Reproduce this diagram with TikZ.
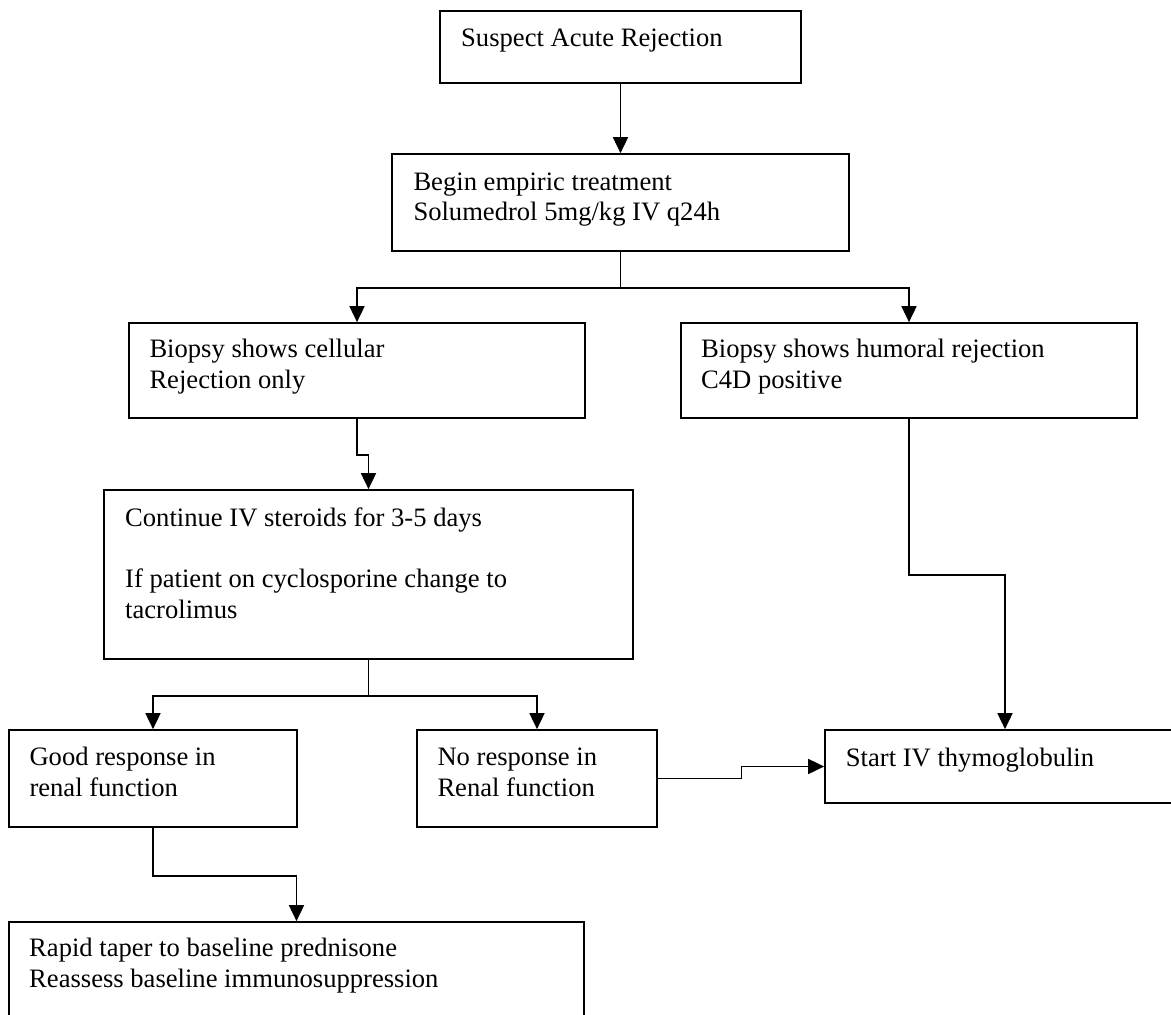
\documentclass[tikz,border=0pt]{standalone}
\usepackage{fontspec}
\setmainfont{Liberation Serif}
\usetikzlibrary{arrows.meta}
\tikzset{
  box/.style={draw=black, line width=1.7pt, inner sep=0pt, rectangle},
  txt/.style={anchor=base west, inner sep=0pt, font=\fontsize{26.6}{30.7}\selectfont},
  conn/.style={draw=black, line width=1.7pt},
  arr/.style={conn, -{Triangle[length=16pt,width=15pt]}}
}
\begin{document}
\begin{tikzpicture}[x=1pt,y=-1pt]
\useasboundingbox (0,0) rectangle (1171,1015);
\fill[white] (0,0) rectangle (1171,1015);
\clip (0,0) rectangle (1171,1015);
% boxes
\node[box, minimum width=361pt, minimum height=72pt] (b1) at (620.5,47) {};
\node[box, minimum width=457pt, minimum height=97pt] (b2) at (620.5,202.5) {};
\node[box, minimum width=456pt, minimum height=95pt] (b3) at (357,370.5) {};
\node[box, minimum width=456pt, minimum height=95pt] (b4) at (909,370.5) {};
\node[box, minimum width=529pt, minimum height=169pt] (b5) at (368.5,574.5) {};
\node[box, minimum width=288pt, minimum height=97pt] (b6) at (153,778.5) {};
\node[box, minimum width=240pt, minimum height=97pt] (b7) at (537,778.5) {};
\node[box, minimum width=355pt, minimum height=73pt] (b8) at (1002.5,766.5) {};
\node[box, minimum width=575pt, minimum height=118pt] (b9) at (296.5,981) {};
% texts
\node[txt] (t1) at (461,46.7) {Suspect Acute Rejection};
\node[txt] (t2) at (413.3,190) {\vtop{\hbox{Begin empiric treatment}\hbox{Solumedrol 5mg/kg IV q24h}}};
\node[txt] (t3) at (149.3,357.3) {\vtop{\hbox{Biopsy shows cellular}\hbox{Rejection only}}};
\node[txt] (t4) at (701,357.3) {\vtop{\hbox{Biopsy shows humoral rejection}\hbox{C4D positive}}};
\node[txt] (t5) at (125,526) {\vtop{\hbox{Continue IV steroids for 3-5 days}\hbox{}\hbox{If patient on cyclosporine change to}\hbox{tacrolimus}}};
\node[txt] (t6) at (29.3,765.7) {\vtop{\hbox{Good response in}\hbox{renal function}}};
\node[txt] (t7) at (437.3,765.7) {\vtop{\hbox{No response in}\hbox{Renal function}}};
\node[txt] (t8) at (845.7,766) {Start IV thymoglobulin};
\node[txt] (t9) at (29,956.7) {\vtop{\hbox{Rapid taper to baseline prednisone}\hbox{Reassess baseline immunosuppression}}};
% connectors
\draw[arr] (b1.south) -- (b2.north);
\draw[conn] (b2.south) -- ++(0,36) coordinate (j1);
\draw[arr] (j1) -| (b3.north);
\draw[arr] (j1) -| (b4.north);
\draw[arr] (b3.south) -- ++(0,36) -| (b5.north);
\draw[conn] (b5.south) -- ++(0,36) coordinate (j2);
\draw[arr] (j2) -| (b6.north);
\draw[arr] (j2) -| (b7.north);
\draw[arr] (b7.east) -- ++(83.7,0) |- (b8.west);
\coordinate (b8in) at ([xshift=2.5pt]b8.north);
\draw[arr] (b4.south) -- ++(0,156.3) -| (b8in);
\draw[arr] (b6.south) -- ++(0,48) -| (b9.north);
\end{tikzpicture}
\end{document}
